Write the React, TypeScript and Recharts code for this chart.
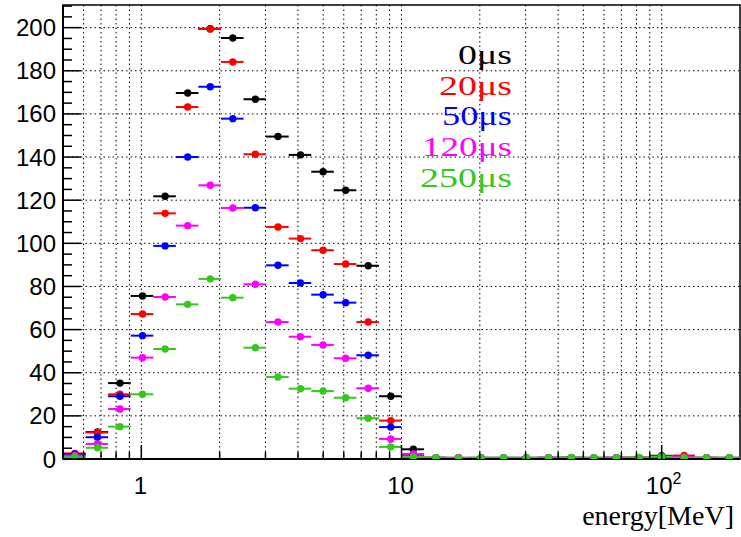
import {
  CartesianGrid,
  ComposedChart,
  ErrorBar,
  Label,
  Legend,
  ReferenceArea,
  Scatter,
  XAxis,
  YAxis,
} from 'recharts'

// log-spaced energy bins (MeV), 30 bins from 0.5 to 200
const binEdges = [
  0.5, 0.6106, 0.7456, 0.9103, 1.1115, 1.3572, 1.6572, 2.0236, 2.4709, 3.0171, 3.684,
  4.4984, 5.4928, 6.707, 8.1896, 10.0, 12.212, 14.912, 18.206, 22.23, 27.144, 33.145,
  40.471, 49.418, 60.341, 73.681, 89.968, 109.86, 134.14, 163.79, 200.0,
]

const seriesNames = ['0μs', '20μs', '50μs', '120μs', '250μs']
const seriesColors = ['#000000', '#ff0000', '#0000ff', '#ff00ff', '#33c81a']

const counts0us = [
  2.0, 12.5, 35.2, 75.6, 121.8, 169.7, 199.5, 195.2, 166.8, 149.5, 141.0, 133.2, 124.6, 89.6, 29.1,
  4.5, 0.6, 0.5, 0.5, 0.5, 0.5, 0.6, 0.6, 0.5, 0.6, 0.6, 1.5, 0.8, 0.5, 0.5,
]
const counts20us = [
  2.6, 12.3, 30.0, 67.2, 113.9, 163.2, 199.4, 184.1, 141.3, 107.6, 102.2, 96.8, 90.4, 63.5, 17.8,
  2.2, 0.5, 0.5, 0.5, 0.5, 0.5, 0.5, 0.6, 0.5, 0.5, 0.6, 1.0, 1.6, 0.6, 0.5,
]
const counts50us = [
  2.3, 10.1, 29.1, 57.2, 98.8, 140.0, 172.6, 157.8, 116.5, 89.8, 81.6, 76.2, 72.5, 48.1, 14.8,
  2.0, 0.5, 0.5, 0.5, 0.5, 0.5, 0.5, 0.5, 0.5, 0.5, 0.5, 0.9, 0.7, 0.5, 0.5,
]
const counts120us = [
  1.6, 7.0, 23.2, 47.0, 75.1, 108.2, 126.9, 116.4, 81.0, 63.5, 56.7, 52.9, 46.7, 32.8, 9.3,
  2.3, 0.5, 0.5, 0.5, 0.5, 0.5, 0.6, 0.5, 0.5, 0.6, 0.5, 1.0, 0.9, 0.5, 0.5,
]
const counts250us = [
  0.9, 5.2, 15.0, 30.0, 51.0, 71.7, 83.5, 74.8, 51.6, 38.0, 32.6, 31.5, 28.4, 18.9, 5.6,
  0.9, 0.6, 0.5, 0.6, 0.6, 0.6, 0.6, 0.7, 0.6, 0.6, 0.7, 1.1, 0.6, 0.6, 0.6,
]
const allCounts = [counts0us, counts20us, counts50us, counts120us, counts250us]

const xTicks = [0.6, 0.7, 0.8, 0.9, 1, 2, 3, 4, 5, 6, 7, 8, 9, 10, 20, 30, 40, 50, 60, 70, 80, 90, 100]
const xMajor = [1, 10, 100]
const yTicks = [
  0, 5, 10, 15, 20, 25, 30, 35, 40, 45, 50, 55, 60, 65, 70, 75, 80, 85, 90, 95, 100, 105, 110, 115,
  120, 125, 130, 135, 140, 145, 150, 155, 160, 165, 170, 175, 180, 185, 190, 195, 200, 205, 210,
]
const yMajor = [0, 20, 40, 60, 80, 100, 120, 140, 160, 180, 200]

const sans = '"Liberation Sans", Arial, sans-serif'
const serif = '"Liberation Serif", "Times New Roman", serif'

function buildSeries(values: number[]) {
  return values.map((v, i) => {
    const lo = binEdges[i]
    const hi = binEdges[i + 1]
    const c = (lo + hi) / 2
    return { x: c, y: v, xErr: [c - lo, hi - c] }
  })
}

function YTick(props: any) {
  const { x, y, payload } = props
  const v = payload.value
  const major = yMajor.includes(v)
  return (
    <g>
      <line x1={x} x2={x + (major ? 18 : 9)} y1={y} y2={y} stroke="#000" strokeWidth={1.5} />
      {major && (
        <text x={x - 7} y={y + 8.5} textAnchor="end" fontFamily={sans} fontSize={24} fill="#000">
          {v}
        </text>
      )}
    </g>
  )
}

function XTick(props: any) {
  const { x, y, payload } = props
  const v = payload.value
  const major = xMajor.includes(v)
  let label: any = null
  if (v === 1 || v === 10) {
    label = (
      <text x={x - 1} y={y + 35} textAnchor="middle" fontFamily={sans} fontSize={24} fill="#000">
        {v}
      </text>
    )
  } else if (v === 100) {
    label = (
      <text x={x + 2} y={y + 35} textAnchor="middle" fontFamily={sans} fontSize={24} fill="#000">
        10<tspan dy={-10} fontSize={16}>2</tspan>
      </text>
    )
  }
  return (
    <g>
      <line x1={x} x2={x} y1={y} y2={y - (major ? 14 : 7)} stroke="#000" strokeWidth={1.5} />
      {label}
    </g>
  )
}

function LegendBox() {
  const baselines = [64, 95, 125, 156, 187]
  const widths = [54, 73, 70, 90, 92]
  return (
    <svg width={741} height={537} style={{ position: 'absolute', left: 0, top: 0, pointerEvents: 'none' }}>
      {seriesNames.map((name, i) => (
        <text
          key={name}
          x={512}
          y={baselines[i]}
          textAnchor="end"
          fontFamily={serif}
          fontSize={27}
          textLength={widths[i]}
          lengthAdjust="spacingAndGlyphs"
          fill={seriesColors[i]}
        >
          {name}
        </text>
      ))}
    </svg>
  )
}

export default function App() {
  return (
    <div style={{ position: 'absolute', left: 0, top: 0, background: '#fff' }}>
      <ComposedChart width={741} height={537} margin={{ top: 5, right: 1, left: 0, bottom: 0 }}>
        <CartesianGrid
          stroke="#000"
          strokeDasharray="1.5 3"
          horizontalValues={yMajor.slice(1)}
          verticalValues={xTicks}
        />
        <XAxis
          dataKey="x"
          type="number"
          scale="log"
          domain={[0.5, 200]}
          allowDataOverflow
          ticks={xTicks}
          interval={0}
          tick={<XTick />}
          tickLine={false}
          tickSize={0}
          tickMargin={0}
          height={78}
          axisLine={{ stroke: '#000', strokeWidth: 2 }}
        >
          <Label
            content={(p: any) => {
              const vb = p.viewBox
              return (
                <text
                  x={vb.x + vb.width - 6}
                  y={vb.y + 66}
                  textAnchor="end"
                  fontFamily={serif}
                  fontSize={28}
                  fill="#000"
                >
                  energy[MeV]
                </text>
              )
            }}
          />
        </XAxis>
        <YAxis
          type="number"
          domain={[0, 210.5]}
          allowDataOverflow
          ticks={yTicks}
          interval={0}
          tick={<YTick />}
          tickLine={false}
          tickSize={0}
          tickMargin={0}
          width={63}
          axisLine={{ stroke: '#000', strokeWidth: 2 }}
        />
        <ReferenceArea
          x1={0.5}
          x2={200}
          y1={0}
          y2={210.5}
          fill="none"
          stroke="#000"
          strokeWidth={1.5}
          ifOverflow="visible"
        />
        {allCounts.map((values, i) => (
          <Scatter
            key={seriesNames[i]}
            name={seriesNames[i]}
            data={buildSeries(values)}
            dataKey="y"
            fill={seriesColors[i]}
            isAnimationActive={false}
            shape={(p: any) => <circle cx={p.cx} cy={p.cy} r={3.7} fill={seriesColors[i]} />}
          >
            <ErrorBar dataKey="xErr" direction="x" width={0} stroke={seriesColors[i]} strokeWidth={2} />
          </Scatter>
        ))}
        <Legend
          layout="horizontal"
          verticalAlign="middle"
          align="center"
          wrapperStyle={{ left: 0, top: 0, width: 741, height: 537 }}
          content={() => <LegendBox />}
        />
      </ComposedChart>
    </div>
  )
}
